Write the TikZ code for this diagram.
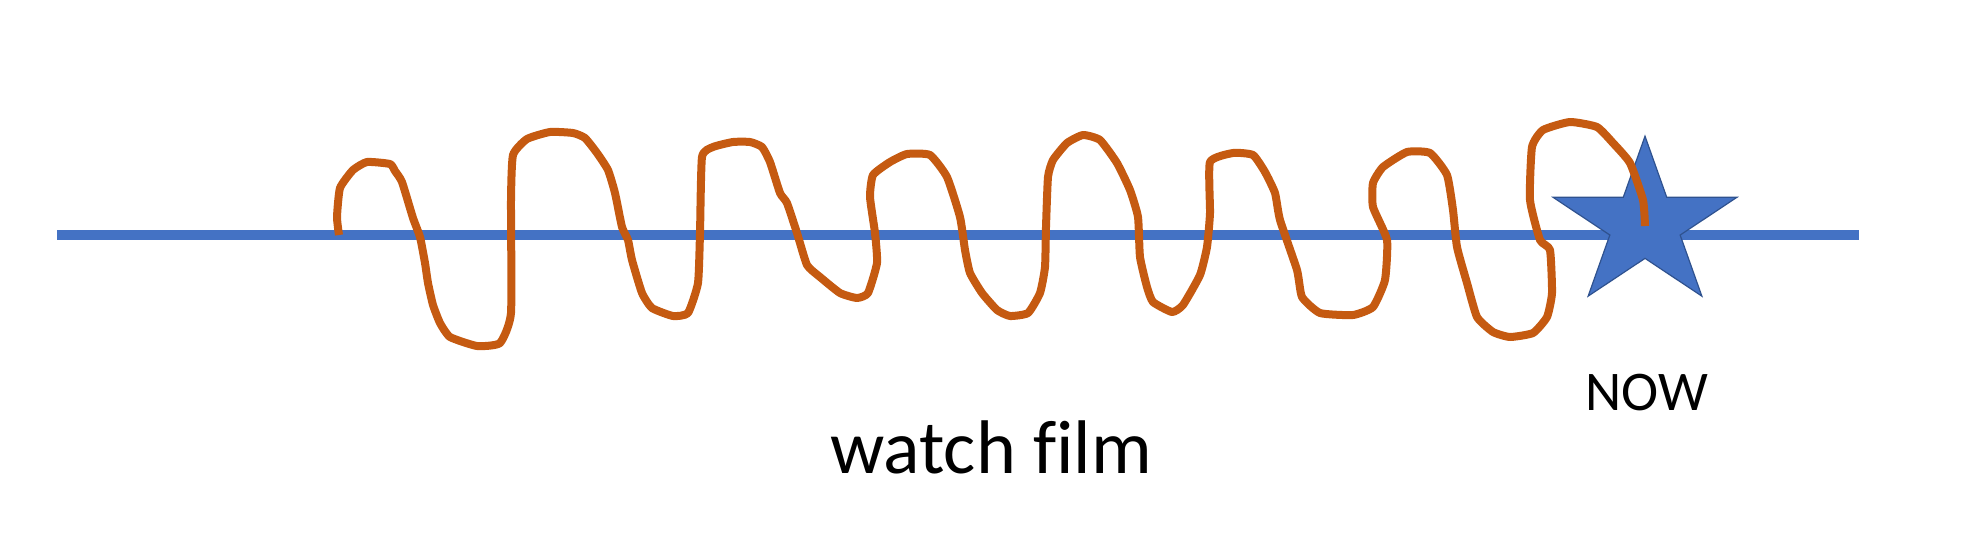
\documentclass[tikz,border=0pt]{standalone}
\usepackage{fontspec}
\setmainfont{Carlito}[Ligatures=NoCommon]
\usepackage{tikz}
\usetikzlibrary{shapes.geometric}
\definecolor{lineblue}{HTML}{4472C4}
\definecolor{starrim}{HTML}{2F528F}
\definecolor{wiggle}{HTML}{C55A11}
\tikzset{timeline/.style = {draw=lineblue, line width=5pt}}
\tikzset{nowstar/.style = {shape=star, star points=5, star point ratio=2.618, minimum size=88.4pt, inner sep=0pt, fill=lineblue, draw=starrim, line width=0.6pt, xscale=1.094}}
\tikzset{scribble/.style = {draw=wiggle, line width=4pt, line join=round}}
\tikzset{label/.style = {anchor=base, inner sep=0pt, text=black}}

\begin{document}
\begin{tikzpicture}[x=0.5pt, y=-0.5pt]
        \useasboundingbox (0,0) rectangle (1988,552);
        \coordinate (tstart) at (57,235);
        \coordinate (tend) at (1859,235);
        \draw[timeline] (tstart) -- (tend);
        \node[nowstar] (star) at (1645,224.6) {};
        % the film going on, scribbled over the time line
        \draw[scribble] plot[smooth, tension=0.3] coordinates {
            (339,235) (337,217) (340,188) (353,170) (367,162) (390,164) (395,171) (402,182)
            (413,218) (420,237) (425,263) (428,283) (433,305) (440,323) (450,337) (477,346)
            (500,343) (511,313) (511,200) (513,155) (527,139) (550,132) (573,133) (585,138)
            (597,153) (608,170) (615,193) (622,227) (628,240) (632,260) (642,293) (652,308)
            (673,316) (688,313) (698,283) (700,233) (702,157) (713,147) (733,142) (750,142)
            (762,147) (770,162) (780,193) (787,203) (797,233) (807,265) (820,277) (840,293)
            (857,298) (868,293) (877,263) (875,233) (870,197) (873,175) (890,162) (907,154)
            (930,155) (947,177) (960,217) (965,250) (970,273) (982,293) (997,310) (1010,316)
            (1028,313) (1040,293) (1045,267) (1046,227) (1048,177) (1053,160) (1067,143) (1083,135)
            (1100,140) (1117,163) (1130,190) (1138,217) (1140,257) (1147,287) (1153,302) (1172,312)
            (1183,305) (1200,275) (1207,247) (1210,213) (1210,162) (1233,153) (1253,155) (1265,172)
            (1275,193) (1280,220) (1297,270) (1302,297) (1320,313) (1353,315) (1373,307) (1385,280)
            (1387,240) (1373,207) (1373,183) (1383,167) (1407,152) (1430,153) (1447,175) (1453,210)
            (1457,247) (1467,283) (1477,317) (1493,332) (1510,337) (1533,333) (1547,317) (1552,293)
            (1550,250) (1540,240) (1530,200) (1532,147) (1543,130) (1570,122) (1597,127) (1613,143)
            (1630,163) (1643,200) (1645,226)};
        \node[label, font=\fontsize{28}{34}\selectfont] (now) at (1647,410) {NOW};
        \node[label, font=\fontsize{38}{46}\selectfont] (film) at (991,473) {watch film};
    \end{tikzpicture}
\end{document}
